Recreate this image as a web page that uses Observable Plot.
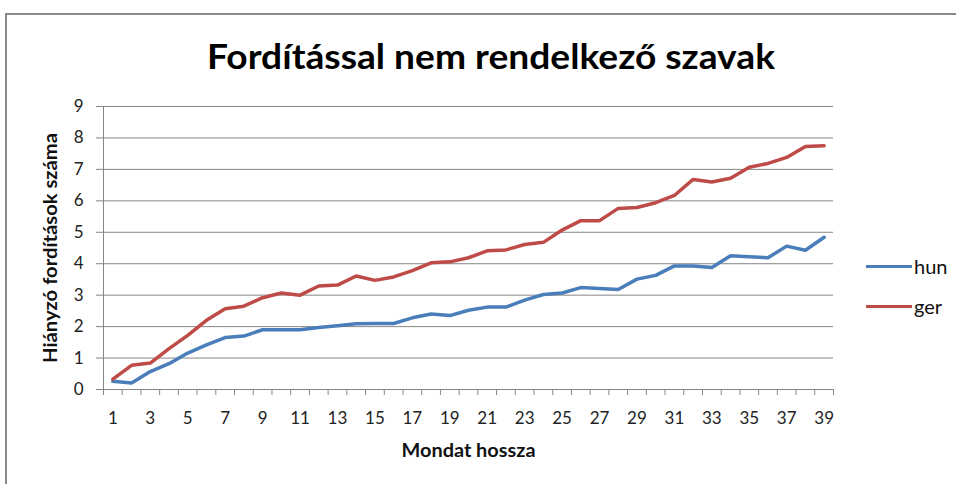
<!DOCTYPE html>
<html><head><meta charset="utf-8">
<script src="https://cdn.jsdelivr.net/npm/d3@7"></script>
<script src="https://cdn.jsdelivr.net/npm/@observablehq/plot@0.6"></script>
<style>
html,body{margin:0;padding:0;background:#fff;}
body{width:956px;height:484px;overflow:hidden;position:relative;font-family:Lato,"Open Sans",sans-serif;}
#frame{position:absolute;left:5px;top:13px;width:1000px;height:520px;border-top:2px solid #8a8a8a;border-left:2px solid #8a8a8a;box-sizing:border-box;}
#titlesvg{position:absolute;left:0;top:0;}
#chart{position:absolute;left:0;top:90px;}
.leg{position:absolute;left:866px;width:46px;height:0;border-top:3.5px solid;}
.legt{position:absolute;left:914px;font-size:20px;color:#111;line-height:1;}
</style>
</head><body>
<div id="frame"></div>
<svg id="titlesvg" width="956" height="90"><text x="491" y="69" text-anchor="middle" font-family="Lato" font-weight="bold" font-size="34" fill="#000" textLength="568" lengthAdjust="spacingAndGlyphs">Fordítással nem rendelkező szavak</text></svg>
<div id="chart"></div>
<div id="legend"></div>
<script>
const chartTitle = "Fordítással nem rendelkező szavak";
const xTitle = "Mondat hossza";
const yTitle = "Hiányzó fordítások száma";
const sentenceLengths = [1,2,3,4,5,6,7,8,9,10,11,12,13,14,15,16,17,18,19,20,21,22,23,24,25,26,27,28,29,30,31,32,33,34,35,36,37,38,39];
const xTickLabels = [1,3,5,7,9,11,13,15,17,19,21,23,25,27,29,31,33,35,37,39];
const yTicks = [0,1,2,3,4,5,6,7,8,9];
const seriesNames = ["hun","ger"];
const seriesColors = ["#4a7ebb","#be4b48"];
const hun = [0.26,0.21,0.57,0.82,1.16,1.42,1.65,1.70,1.90,1.90,1.90,1.97,2.03,2.09,2.10,2.10,2.28,2.40,2.35,2.52,2.62,2.62,2.84,3.02,3.07,3.24,3.21,3.18,3.51,3.63,3.93,3.93,3.88,4.25,4.22,4.19,4.56,4.43,4.84];
const ger = [0.33,0.77,0.84,1.30,1.72,2.20,2.57,2.65,2.92,3.07,3.00,3.29,3.32,3.61,3.47,3.58,3.78,4.03,4.06,4.19,4.41,4.44,4.61,4.68,5.07,5.37,5.37,5.76,5.79,5.94,6.17,6.68,6.60,6.72,7.07,7.19,7.38,7.73,7.75];

const data = [];
sentenceLengths.forEach((len, i) => {
  data.push({len, value: hun[i], series: "hun"});
  data.push({len, value: ger[i], series: "ger"});
});
const n = sentenceLengths.length;
const boundaries = d3.range(n + 1).map(i => sentenceLengths[0] - 0.5 + i);
const grey = "#868686";

const plot = Plot.plot({
  width: 870,
  height: 394,
  marginLeft: 103,
  marginRight: 37,
  marginTop: 16,
  marginBottom: 95,
  style: {fontFamily: "Lato, sans-serif", fontSize: "17px", background: "transparent", overflow: "visible", color: "#222"},
  x: {type: "linear", domain: [sentenceLengths[0] - 0.5, sentenceLengths[n - 1] + 0.5]},
  y: {domain: [yTicks[0], yTicks[yTicks.length - 1]]},
  color: {domain: seriesNames, range: seriesColors},
  marks: [
    Plot.gridY(yTicks, {stroke: grey, strokeOpacity: 1, strokeWidth: 1}),
    Plot.ruleX([boundaries[0]], {stroke: grey, strokeWidth: 1}),
    Plot.axisY(yTicks, {tickSize: 7, tickPadding: 13, stroke: grey, fontSize: 17, label: null, fill: "#222"}),
    Plot.axisX(boundaries, {tickSize: 6, tickFormat: () => "", stroke: grey, label: null}),
    Plot.axisX(xTickLabels, {tickSize: 0, tickPadding: 22, fontSize: 17, label: null, fill: "#222"}),
    Plot.line(data, {x: "len", y: "value", z: "series", stroke: "series", strokeWidth: 3.5, strokeLinejoin: "round", strokeLinecap: "round"}),
    Plot.text([xTitle], {frameAnchor: "bottom", lineAnchor: "bottom", dy: 67.7, fontWeight: "bold", fontSize: 19, fill: "#111", className: "xtitle"}),
    Plot.text([yTitle], {frameAnchor: "left", textAnchor: "middle", lineAnchor: "bottom", rotate: -90, dx: -47, fontWeight: "bold", fontSize: 19, fill: "#111", className: "ytitle"})
  ]
});
document.getElementById("chart").appendChild(plot);
d3.select(plot).selectAll(".xtitle text").attr("textLength", 134).attr("lengthAdjust", "spacingAndGlyphs");
d3.select(plot).selectAll(".ytitle text").attr("textLength", 230).attr("lengthAdjust", "spacingAndGlyphs");

const legend = document.getElementById("legend");
const legTops = [266.7, 307];
seriesNames.forEach((s, i) => {
  const l = document.createElement("div");
  l.className = "leg";
  l.style.top = (legTops[i] - 1.75) + "px";
  l.style.borderColor = seriesColors[i];
  legend.appendChild(l);
  const t = document.createElement("div");
  t.className = "legt";
  t.style.top = (legTops[i] - 11) + "px";
  t.textContent = s;
  legend.appendChild(t);
});
</script>
</body></html>
